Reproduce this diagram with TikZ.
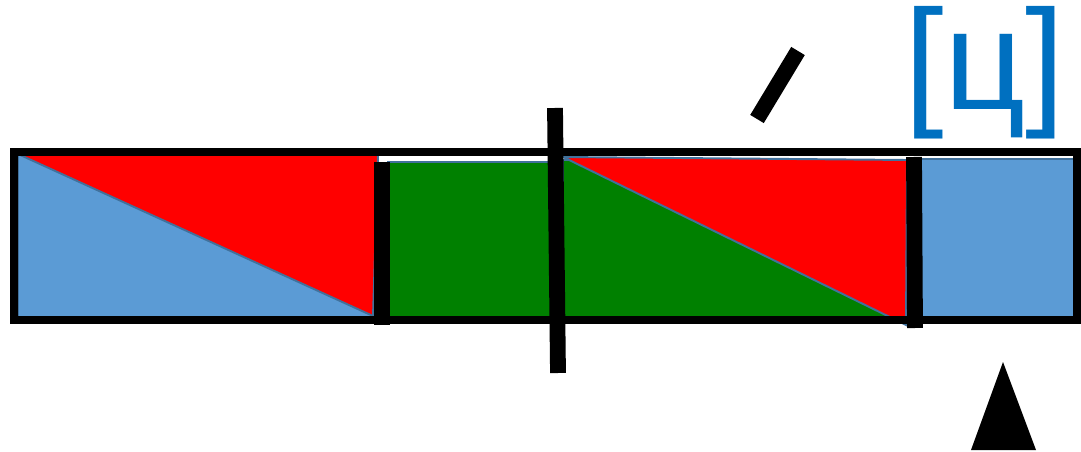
\documentclass[tikz,border=0pt]{standalone}
\usepackage{fontspec}
\setmainfont{Liberation Sans}
\definecolor{cellblue}{RGB}{91,155,213}
\definecolor{celledge}{RGB}{65,113,156}
\definecolor{cellgreen}{RGB}{0,128,0}
\definecolor{ipablue}{RGB}{0,112,192}
\tikzset{
  cell/.style={draw=celledge,line width=1.1pt},
  bar/.style={line width=9pt},
}
\begin{document}
\begin{tikzpicture}[x=0.02cm,y=-0.02cm]
  % tira de segmentos con cortes
  \useasboundingbox (0,0) rectangle (1081,452);
  \fill[white] (0,0) rectangle (1081,452);

  \draw[cell,fill=cellblue] (18,155) rectangle (378,317);
  \draw[cell,fill=red] (18,154) -- (378,155) -- (373,316) -- cycle;

  \draw[cell,fill=cellgreen] (388,162) rectangle (558,318);
  \draw[cell,fill=cellgreen] (563,160) rectangle (907,318);
  \draw[cell,fill=red] (563,157) -- (907,160) -- (906,325) -- cycle;

  \draw[cell,fill=cellblue] (921,159) rectangle (1077,318);

  \draw[line width=4.5pt] (14,152) rectangle (1077,320);

  \draw[bar] (382,162) -- (382,325);
  \draw[bar] (555,108) -- (558,373);
  \draw[bar] (914,157) -- (915,328);
  \draw[bar] (798,51) -- (757,119);

  \fill (1003,362) -- (1036,450) -- (971,450) -- cycle;

  \node[text=ipablue,font=\fontsize{81}{81}\selectfont,anchor=base,inner sep=0pt]
    (sonido) at (985,110) {[ц]};
\end{tikzpicture}
\end{document}
